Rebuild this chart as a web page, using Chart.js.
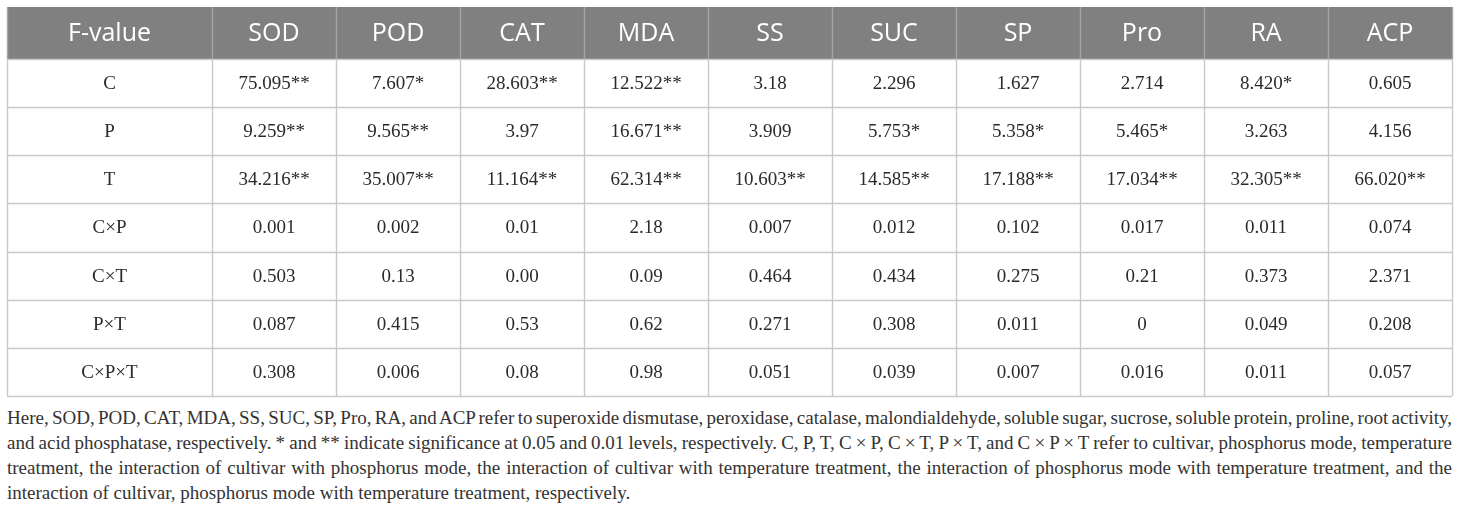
<!DOCTYPE html>
<html>
<head>
<meta charset="utf-8">
<script src="https://cdn.jsdelivr.net/npm/chart.js@4.4.1/dist/chart.umd.min.js"></script>
<style>
  html, body { margin: 0; padding: 0; background: #fff; }
  body { width: 1460px; height: 508px; position: relative; overflow: hidden; }
  #table { position: absolute; left: 0; top: 0; }
  #note {
    position: absolute; left: 7px; top: 405px; width: 1445px;
    font-family: "Liberation Serif", "Times New Roman", serif;
    font-size: 19px; line-height: 25px; color: #333;
  }
  #note div { white-space: nowrap; }
  #note div.j { text-align: justify; text-align-last: justify; word-spacing: -2.2px; }
</style>
</head>
<body>
<canvas id="table" width="1460" height="400"></canvas>
<div id="note">
  <div class="j">Here, SOD, POD, CAT, MDA, SS, SUC, SP, Pro, RA, and ACP refer to superoxide dismutase, peroxidase, catalase, malondialdehyde, soluble sugar, sucrose, soluble protein, proline, root activity,</div>
  <div class="j">and acid phosphatase, respectively. * and ** indicate significance at 0.05 and 0.01 levels, respectively. C, P, T, C × P, C × T, P × T, and C × P × T refer to cultivar, phosphorus mode, temperature</div>
  <div class="j">treatment, the interaction of cultivar with phosphorus mode, the interaction of cultivar with temperature treatment, the interaction of phosphorus mode with temperature treatment, and the</div>
  <div>interaction of cultivar, phosphorus mode with temperature treatment, respectively.</div>
</div>
<script>
// columns and rows of the F-value table
var cornerLabel = 'F-value';
var columns = ['SOD', 'POD', 'CAT', 'MDA', 'SS', 'SUC', 'SP', 'Pro', 'RA', 'ACP'];
var rows = ['C', 'P', 'T', 'C×P', 'C×T', 'P×T', 'C×P×T'];

// F-values per source of variation (* p<0.05, ** p<0.01)
var fC     = ['75.095**', '7.607*', '28.603**', '12.522**', '3.18', '2.296', '1.627', '2.714', '8.420*', '0.605'];
var fP     = ['9.259**', '9.565**', '3.97', '16.671**', '3.909', '5.753*', '5.358*', '5.465*', '3.263', '4.156'];
var fT     = ['34.216**', '35.007**', '11.164**', '62.314**', '10.603**', '14.585**', '17.188**', '17.034**', '32.305**', '66.020**'];
var fCxP   = ['0.001', '0.002', '0.01', '2.18', '0.007', '0.012', '0.102', '0.017', '0.011', '0.074'];
var fCxT   = ['0.503', '0.13', '0.00', '0.09', '0.464', '0.434', '0.275', '0.21', '0.373', '2.371'];
var fPxT   = ['0.087', '0.415', '0.53', '0.62', '0.271', '0.308', '0.011', '0', '0.049', '0.208'];
var fCxPxT = ['0.308', '0.006', '0.08', '0.98', '0.051', '0.039', '0.007', '0.016', '0.011', '0.057'];

var rowValues = [fC, fP, fT, fCxP, fCxT, fPxT, fCxPxT];

// one point per cell, placed by the category scales
var cells = [];
rowValues.forEach(function (vals, r) {
  vals.forEach(function (v, c) {
    cells.push({ x: columns[c], y: rows[r], text: v });
  });
});

var HEADER_H = 52;
var LEFT_X = 7;
var SERIF = '"Liberation Serif", "Times New Roman", serif';
var SANS = '"Open Sans", Lato, sans-serif';

var tablePlugin = {
  id: 'tableGrid',
  beforeDatasetsDraw: function (chart) {
    var ctx = chart.ctx, area = chart.chartArea;
    var xs = chart.scales.x, ys = chart.scales.y;
    var colW = (xs.right - xs.left) / columns.length;
    var rowH = (ys.bottom - ys.top) / rows.length;
    var headTop = area.top - HEADER_H;

    ctx.save();
    // header band
    ctx.fillStyle = '#7f807f';
    ctx.fillRect(LEFT_X, headTop, area.right - LEFT_X, HEADER_H);

    // horizontal rules
    ctx.strokeStyle = '#c9c9c9';
    ctx.lineWidth = 1.4;
    for (var r = 0; r <= rows.length; r++) {
      var y = Math.round(ys.top + r * rowH) + 0.5;
      ctx.beginPath();
      ctx.moveTo(LEFT_X, y);
      ctx.lineTo(area.right, y);
      ctx.stroke();
    }
    // vertical rules
    var vx = [LEFT_X];
    for (var c = 0; c <= columns.length; c++) vx.push(xs.left + c * colW);
    vx.forEach(function (x) {
      x = Math.round(x) + 0.5;
      ctx.strokeStyle = '#c9c9c9';
      ctx.beginPath();
      ctx.moveTo(x, area.top);
      ctx.lineTo(x, ys.bottom);
      ctx.stroke();
      ctx.strokeStyle = '#a3a4a3';
      ctx.beginPath();
      ctx.moveTo(x, headTop);
      ctx.lineTo(x, area.top);
      ctx.stroke();
    });

    // header labels
    ctx.fillStyle = '#ffffff';
    ctx.font = '25px ' + SANS;
    ctx.textAlign = 'center';
    ctx.textBaseline = 'middle';
    var headY = headTop + HEADER_H / 2 + 1;
    ctx.fillText(cornerLabel, (LEFT_X + xs.left) / 2, headY);
    columns.forEach(function (lab, i) {
      ctx.fillText(lab, xs.getPixelForValue(i), headY);
    });

    // row labels
    ctx.fillStyle = '#2a2a2a';
    ctx.font = '19px ' + SERIF;
    rows.forEach(function (lab, i) {
      ctx.fillText(lab, (LEFT_X + xs.left) / 2, ys.getPixelForValue(i) + 1);
    });
    ctx.restore();
  },
  afterDatasetsDraw: function (chart) {
    var ctx = chart.ctx;
    var meta = chart.getDatasetMeta(0);
    ctx.save();
    ctx.fillStyle = '#2a2a2a';
    ctx.font = '19px ' + SERIF;
    ctx.textAlign = 'center';
    ctx.textBaseline = 'middle';
    meta.data.forEach(function (pt, i) {
      ctx.fillText(cells[i].text, pt.x, pt.y + 1);
    });
    ctx.restore();
  }
};

new Chart(document.getElementById('table'), {
  type: 'scatter',
  data: {
    datasets: [{
      data: cells,
      pointRadius: 0,
      pointHoverRadius: 0
    }]
  },
  options: {
    responsive: false,
    animation: false,
    events: [],
    layout: { padding: { left: 212, right: 8, top: 59, bottom: 4 } },
    plugins: { legend: { display: false }, tooltip: { enabled: false } },
    scales: {
      x: { type: 'category', labels: columns, offset: true, display: false },
      y: { type: 'category', labels: rows, offset: true, display: false }
    }
  },
  plugins: [tablePlugin]
});
</script>
</body>
</html>
